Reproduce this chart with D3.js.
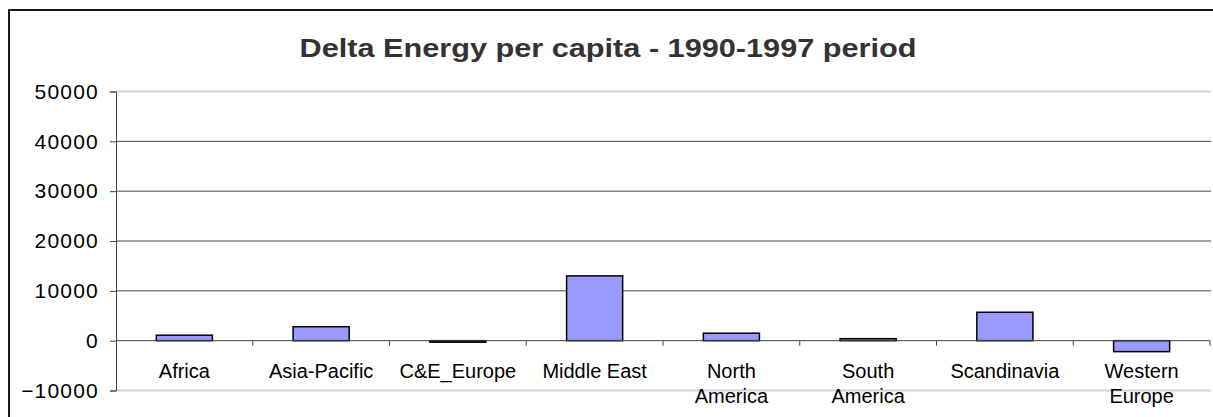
<!DOCTYPE html>
<html>
<head>
<meta charset="utf-8">
<script src="https://cdn.jsdelivr.net/npm/d3@7"></script>
<style>
  body { margin: 0; background: #fff; }
  text { font-family: "Liberation Sans", Arial, sans-serif; }
</style>
</head>
<body>
<div id="chart"></div>
<script>
// Chart data
const categories = ["Africa", "Asia-Pacific", "C&E_Europe", "Middle East",
  "North America", "South America", "Scandinavia", "Western Europe"];
const values = [1100, 2800, -300, 13000, 1500, 400, 5700, -2200];
const yTicks = [-10000, 0, 10000, 20000, 30000, 40000, 50000];
const title = "Delta Energy per capita - 1990-1997 period";

const width = 1213;
const height = 417;
const plot = { left: 116, right: 1210, top: 91.5, bottom: 390.5 };

const svg = d3.select("#chart")
  .append("svg")
  .attr("width", width)
  .attr("height", height);

// Outer chart frame (runs off the right and bottom of the picture)
svg.append("rect")
  .attr("x", 9).attr("y", 10)
  .attr("width", width + 20).attr("height", height + 20)
  .attr("fill", "#fff")
  .attr("stroke", "#000")
  .attr("stroke-width", 1.8);

const y = d3.scaleLinear()
  .domain([-10000, 50000])
  .range([plot.bottom, plot.top]);

// Category slots and bars within them
const xSlot = d3.scaleBand()
  .domain(categories)
  .range([plot.left, plot.right]);

const x = d3.scaleBand()
  .domain(categories)
  .range([plot.left, plot.right])
  .paddingInner(0.59)
  .paddingOuter(0.295);

// Grid lines
svg.append("g")
  .selectAll("line")
  .data(yTicks.filter((t) => t !== 0))
  .enter()
  .append("line")
  .attr("x1", plot.left)
  .attr("x2", plot.right + 1)
  .attr("y1", (d) => y(d))
  .attr("y2", (d) => y(d))
  .attr("stroke", (d) => (d === 50000 || d === -10000 ? "#d2d2d2" : "#4a4a4a"))
  .attr("stroke-width", (d) => (d === 50000 || d === -10000 ? 1.8 : 1));

// Bars
svg.append("g")
  .selectAll("rect")
  .data(values)
  .enter()
  .append("rect")
  .attr("x", (d, i) => x(categories[i]))
  .attr("width", x.bandwidth())
  .attr("y", (d) => Math.min(y(d), y(0)))
  .attr("height", (d) => Math.abs(y(d) - y(0)))
  .attr("fill", "#9999ff")
  .attr("stroke", "#000")
  .attr("stroke-width", 1.5);

// Zero line with category ticks
svg.append("line")
  .attr("x1", plot.left).attr("x2", plot.right)
  .attr("y1", y(0)).attr("y2", y(0))
  .attr("stroke", "#444");

svg.append("g")
  .selectAll("line")
  .data(categories)
  .enter()
  .append("line")
  .attr("x1", (d) => xSlot(d) + xSlot.bandwidth())
  .attr("x2", (d) => xSlot(d) + xSlot.bandwidth())
  .attr("y1", y(0))
  .attr("y2", y(0) + 5)
  .attr("stroke", "#444");

// Y axis
const yAxis = svg.append("g")
  .attr("transform", `translate(${plot.left},0)`)
  .call(d3.axisLeft(y).tickValues(yTicks).tickSize(6).tickPadding(11).tickFormat(d3.format("d")));
yAxis.select(".domain").attr("stroke", "#444");
yAxis.selectAll(".tick line").attr("stroke", "#444");
yAxis.selectAll(".tick text")
  .attr("fill", "#000")
  .style("font-size", "21px")
  .style("letter-spacing", "1.2px")
  .style("font-family", "'Liberation Sans', Arial, sans-serif");

// Wrap long labels onto two lines
function wrap(textSelection, availableWidth) {
  textSelection.each(function () {
    const text = d3.select(this);
    const words = text.text().split(/\s+/).reverse();
    const xPos = text.attr("x");
    const yPos = text.attr("y");
    let line = [];
    let lineNumber = 0;
    let word;
    let tspan = text.text(null).append("tspan").attr("x", xPos).attr("y", yPos);
    while ((word = words.pop())) {
      line.push(word);
      tspan.text(line.join(" "));
      if (tspan.node().getComputedTextLength() > availableWidth && line.length > 1) {
        line.pop();
        tspan.text(line.join(" "));
        line = [word];
        tspan = text.append("tspan")
          .attr("x", xPos)
          .attr("y", +yPos + ++lineNumber * 25)
          .text(word);
      }
    }
  });
}

// Category labels
svg.append("g")
  .selectAll("text")
  .data(categories)
  .enter()
  .append("text")
  .attr("x", (d) => xSlot(d) + xSlot.bandwidth() / 2)
  .attr("y", 378)
  .attr("text-anchor", "middle")
  .style("font-size", "20px")
  .text((d) => d)
  .call(wrap, 120);

// Title (glyphs stretched wide as in the original)
svg.append("text")
  .attr("x", 608)
  .attr("y", 57)
  .attr("text-anchor", "middle")
  .attr("fill", "#333")
  .attr("textLength", 617)
  .attr("lengthAdjust", "spacingAndGlyphs")
  .style("font-size", "26px")
  .style("font-weight", "bold")
  .text(title);
</script>
</body>
</html>
